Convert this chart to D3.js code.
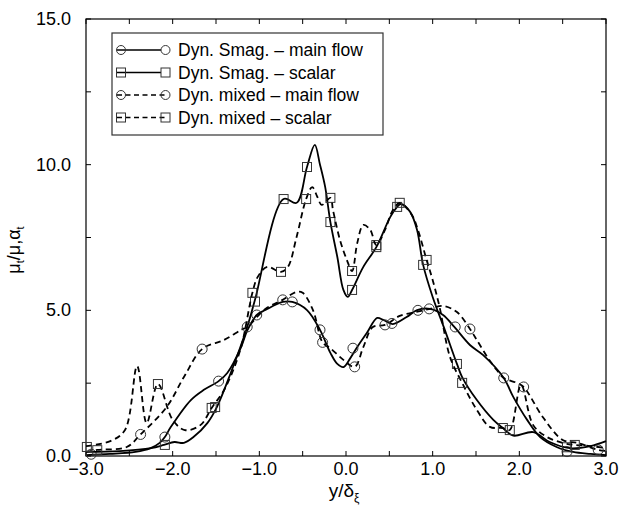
<!DOCTYPE html>
<html>
<head>
<meta charset="utf-8">
<script src="https://cdn.jsdelivr.net/npm/d3@7"></script>
<style>
  body { margin: 0; background: #fff; }
  svg text { font-family: "Liberation Sans", Arial, sans-serif; fill: #000; }
</style>
</head>
<body>
<div id="chart"></div>
<script>
// values: [y/delta, value]
const smagMain = [[-3.0,0.03],[-2.72,0.07],[-2.43,0.14],[-2.26,0.26],[-2.15,0.45],[-2.09,0.65],[-2.02,1.0],[-1.79,1.92],[-1.64,2.27],[-1.47,2.57],[-1.37,2.85],[-1.21,3.74],[-1.14,4.3],[-1.03,4.84],[-0.93,5.01],[-0.73,5.29],[-0.62,5.29],[-0.45,5.01],[-0.30,4.33],[-0.18,3.54],[-0.10,3.16],[-0.03,3.05],[0.05,3.36],[0.13,3.74],[0.24,4.22],[0.36,4.74],[0.43,4.67],[0.54,4.53],[0.70,4.77],[0.82,5.01],[0.97,5.05],[1.12,4.84],[1.25,4.43],[1.43,3.81],[1.58,3.47],[1.82,2.68],[1.93,2.03],[2.09,1.24],[2.24,0.65],[2.43,0.31],[2.62,0.14],[2.82,0.07],[3.0,0.03]];
const smagScalar = [[-3.0,0.14],[-2.61,0.17],[-2.25,0.27],[-2.10,0.38],[-1.98,0.48],[-1.87,0.45],[-1.76,0.65],[-1.60,1.13],[-1.49,1.68],[-1.33,2.85],[-1.14,4.43],[-1.05,5.36],[-0.72,8.82],[-0.57,8.69],[-0.45,9.92],[-0.36,10.68],[-0.30,10.0],[-0.24,9.23],[-0.18,8.03],[-0.10,6.83],[-0.03,5.70],[0.02,5.46],[0.07,5.70],[0.20,6.49],[0.35,7.17],[0.51,8.20],[0.59,8.55],[0.63,8.65],[0.74,8.38],[0.82,7.76],[0.89,6.56],[1.00,5.46],[1.14,4.33],[1.28,3.16],[1.34,2.71],[1.51,1.92],[1.70,1.24],[1.81,0.96],[1.93,0.70],[2.16,0.82],[2.35,0.48],[2.58,0.27],[2.82,0.34],[3.0,0.51]];
const mixedMain = [[-3.0,0.14],[-2.87,0.21],[-2.53,0.31],[-2.37,0.74],[-2.07,1.68],[-1.87,2.71],[-1.66,3.67],[-1.41,3.98],[-1.21,4.33],[-1.14,4.43],[-0.93,5.05],[-0.73,5.36],[-0.57,5.63],[-0.50,5.60],[-0.38,5.0],[-0.27,3.9],[-0.18,3.7],[-0.03,3.3],[0.10,3.06],[0.20,3.74],[0.31,4.43],[0.45,4.5],[0.62,4.81],[0.80,4.94],[0.97,5.05],[1.12,5.15],[1.28,4.94],[1.43,4.36],[1.51,3.98],[1.63,3.40],[1.74,2.95],[1.82,2.68],[1.97,2.51],[2.05,2.37],[2.27,1.34],[2.50,0.55],[2.67,0.45],[2.91,0.21],[3.0,0.17]];
const mixedScalar = [[-3.0,0.34],[-2.72,0.51],[-2.55,0.89],[-2.41,3.09],[-2.30,1.13],[-2.17,2.47],[-2.0,1.24],[-1.86,0.89],[-1.68,1.06],[-1.55,1.65],[-1.40,2.3],[-1.22,3.64],[-1.08,5.60],[-1.02,6.14],[-0.91,6.49],[-0.75,6.32],[-0.67,6.49],[-0.57,7.52],[-0.46,8.82],[-0.39,9.23],[-0.33,8.89],[-0.28,8.62],[-0.18,8.86],[-0.15,8.44],[-0.07,7.42],[0.01,6.73],[0.07,6.35],[0.13,7.31],[0.20,7.93],[0.28,7.76],[0.35,7.24],[0.45,7.76],[0.54,8.44],[0.62,8.69],[0.76,8.27],[0.83,7.76],[0.93,6.73],[1.00,6.04],[1.08,5.11],[1.20,3.40],[1.34,2.51],[1.51,1.58],[1.66,1.0],[1.81,0.96],[1.89,0.89],[2.02,2.44],[2.16,1.06],[2.32,0.65],[2.50,0.45],[2.64,0.38],[2.80,0.35],[3.0,0.27]];

// symbol positions along each curve
const smagMainMarks = [[-2.94,0.06],[-2.09,0.65],[-1.47,2.57],[-1.03,4.84],[-0.62,5.29],[-0.30,4.33],[0.08,3.7],[0.53,4.55],[0.83,5.0],[1.26,4.43],[1.82,2.68],[2.55,0.15]];
const smagScalarMarks = [[-2.87,0.2],[-2.09,0.38],[-1.51,1.68],[-1.05,5.3],[-0.72,8.82],[-0.45,9.92],[-0.18,8.03],[0.07,5.70],[0.35,7.17],[0.59,8.55],[0.89,6.56],[1.28,3.16],[1.81,0.96],[2.55,0.3]];
const mixedMainMarks = [[-2.37,0.74],[-1.66,3.67],[-1.14,4.43],[-0.73,5.36],[-0.27,3.9],[0.10,3.06],[0.45,4.5],[0.96,5.05],[1.43,4.36],[2.05,2.37],[2.91,0.21]];
const mixedScalarMarks = [[-2.99,0.31],[-2.17,2.47],[-1.55,1.65],[-1.08,5.6],[-0.75,6.32],[-0.46,8.82],[-0.18,8.86],[0.07,6.35],[0.35,7.24],[0.62,8.69],[0.93,6.73],[1.34,2.51],[1.89,0.89],[2.64,0.38]];

const xTickLabels = [-3, -2, -1, 0, 1, 2, 3];
const yTickLabels = [0, 5, 10, 15];
const legendLabels = ["Dyn. Smag. \u2013 main flow", "Dyn. Smag. \u2013 scalar", "Dyn. mixed \u2013 main flow", "Dyn. mixed \u2013 scalar"];

const series = [
    {name: legendLabels[0], data: smagMain, marks: smagMainMarks, dash: null, sym: "circle"},
    {name: legendLabels[1], data: smagScalar, marks: smagScalarMarks, dash: null, sym: "square"},
    {name: legendLabels[2], data: mixedMain, marks: mixedMainMarks, dash: "6,4", sym: "circle"},
    {name: legendLabels[3], data: mixedScalar, marks: mixedScalarMarks, dash: "6,4", sym: "square"}
];

const W = 619, H = 510;
const plot = {left: 86, right: 606, top: 19, bottom: 456};

const svg = d3.select("#chart").append("svg")
    .attr("width", W)
    .attr("height", H);

const x = d3.scaleLinear().domain([-3, 3]).range([plot.left, plot.right]);
const y = d3.scaleLinear().domain([0, 15]).range([plot.bottom, plot.top]);

// frame
svg.append("rect")
    .attr("x", plot.left).attr("y", plot.top)
    .attr("width", plot.right - plot.left).attr("height", plot.bottom - plot.top)
    .attr("fill", "none").attr("stroke", "#000").attr("stroke-width", 1.2);

// inward ticks on all four sides
const tl = 5;
const xt = d3.range(-3, 3.01, 0.5), yt = d3.range(0, 15.01, 2.5);
const ticks = svg.append("g").attr("stroke", "#000").attr("stroke-width", 1);
xt.forEach(v => {
    ticks.append("line").attr("x1", x(v)).attr("x2", x(v)).attr("y1", plot.bottom).attr("y2", plot.bottom - tl);
    ticks.append("line").attr("x1", x(v)).attr("x2", x(v)).attr("y1", plot.top).attr("y2", plot.top + tl);
});
yt.forEach(v => {
    ticks.append("line").attr("y1", y(v)).attr("y2", y(v)).attr("x1", plot.left).attr("x2", plot.left + tl);
    ticks.append("line").attr("y1", y(v)).attr("y2", y(v)).attr("x1", plot.right).attr("x2", plot.right - tl);
});

const fmt = d3.format(".1f");
svg.append("g").selectAll("text")
    .data(xTickLabels)
    .join("text")
    .attr("x", d => x(d))
    .attr("y", plot.bottom + 19)
    .attr("text-anchor", "middle")
    .style("font-size", "18px")
    .text(d => fmt(d));

svg.append("g").selectAll("text")
    .data(yTickLabels)
    .join("text")
    .attr("x", plot.left - 15)
    .attr("y", d => y(d) + 6)
    .attr("text-anchor", "end")
    .style("font-size", "18px")
    .text(d => fmt(d));

// axis titles
const xl = svg.append("text")
    .attr("x", 344).attr("y", 497)
    .attr("text-anchor", "middle")
    .style("font-size", "19px");
xl.append("tspan").text("y/\u03b4");
xl.append("tspan").attr("dy", 5).style("font-size", "12px").text("\u03be");

const yl = svg.append("text")
    .attr("transform", "translate(20,250) rotate(-90)")
    .attr("text-anchor", "middle")
    .style("font-size", "18px");
yl.append("tspan").text("\u03bc");
yl.append("tspan").attr("dy", 4).style("font-size", "11px").text("t");
yl.append("tspan").attr("dy", -4).text("/\u03bc,\u03b1");
yl.append("tspan").attr("dy", 4).style("font-size", "11px").text("t");

// curves
const line = d3.line()
    .x(d => x(d[0]))
    .y(d => y(d[1]))
    .curve(d3.curveCatmullRom.alpha(0.5));

const marks = svg.append("g").attr("class", "marks");

function drawSymbol(g, sym, cx, cy, r) {
    if (sym === "circle") {
        g.append("circle").attr("cx", cx).attr("cy", cy).attr("r", r)
            .attr("fill", "none").attr("stroke", "#333").attr("stroke-width", 1);
    } else {
        g.append("rect").attr("x", cx - r).attr("y", cy - r)
            .attr("width", 2 * r).attr("height", 2 * r)
            .attr("fill", "none").attr("stroke", "#333").attr("stroke-width", 1);
    }
}

series.forEach(s => {
    marks.append("path")
        .datum(s.data)
        .attr("d", line)
        .attr("fill", "none")
        .attr("stroke", "#000")
        .attr("stroke-width", 1.8)
        .attr("stroke-dasharray", s.dash);
    s.marks.forEach(m => drawSymbol(marks, s.sym, x(m[0]), y(m[1]), s.sym === "circle" ? 5 : 4.5));
});

// legend
const leg = svg.append("g").attr("class", "legend");
leg.append("rect")
    .attr("x", 112).attr("y", 33)
    .attr("width", 271).attr("height", 102)
    .attr("fill", "#fff").attr("stroke", "#333").attr("stroke-width", 1.2);

series.forEach((s, i) => {
    const ly = 50 + i * 22.5;
    leg.append("line")
        .attr("x1", 117).attr("x2", s.dash ? 165 : 161)
        .attr("y1", ly).attr("y2", ly)
        .attr("stroke", "#000").attr("stroke-width", 1.6)
        .attr("stroke-dasharray", s.dash ? "5,3.5" : null);
    drawSymbol(leg, s.sym, 121, ly, 4.5);
    drawSymbol(leg, s.sym, 165.5, ly, 4.5);
    leg.append("text")
        .attr("x", 178).attr("y", ly + 6)
        .style("font-size", "17.5px")
        .text(s.name);
});
</script>
</body>
</html>
